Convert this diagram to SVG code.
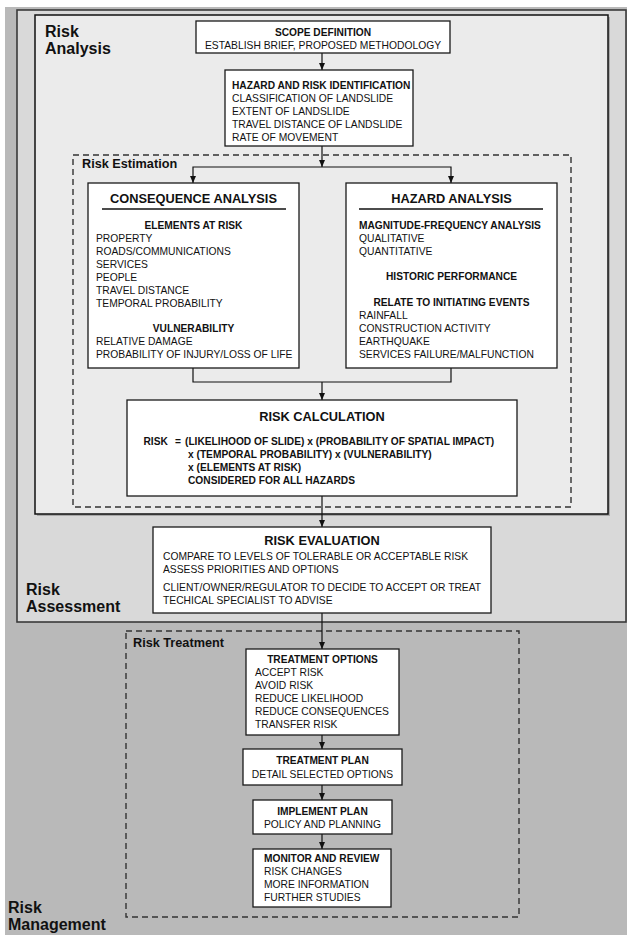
<svg xmlns="http://www.w3.org/2000/svg" width="627" height="935" viewBox="0 0 627 935">
<style>
text{font-family:"Liberation Sans",Arial,Helvetica,sans-serif;fill:#111}
.t{font-size:10.3px}
.tb{font-size:10.2px;font-weight:bold}
.h{font-size:12.8px;font-weight:bold}
.sec{font-size:16px;font-weight:bold}
.sub{font-size:12.7px;font-weight:bold}
.c{text-anchor:middle}
.box{fill:#fff;stroke:#1a1a1a;stroke-width:1.3}
.dash{fill:none;stroke:#333;stroke-width:1.4;stroke-dasharray:6 4}
.con{fill:none;stroke:#111;stroke-width:1.2}
.ul{stroke:#111;stroke-width:1.3}
</style>
<defs>
<marker id="ah" markerUnits="userSpaceOnUse" markerWidth="8" markerHeight="7" refX="7" refY="3.5" orient="auto"><path d="M0,0.5 L7,3.5 L0,6.5 z" fill="#111"/></marker>
</defs>
<rect x="0" y="0" width="627" height="935" fill="#fff"/>
<g id="risk-management">
<rect x="5" y="7" width="622" height="928" fill="#b9b9b9"/>
<text class="sec" x="8" y="913">Risk</text>
<text class="sec" x="8" y="930">Management</text>
</g>
<g id="risk-assessment">
<rect x="17" y="10" width="609" height="612" fill="#d9d9d9" stroke="#3a3a3a" stroke-width="1.6"/>
<text class="sec" x="26" y="595">Risk</text>
<text class="sec" x="26" y="612">Assessment</text>
</g>
<g id="risk-analysis">
<rect x="37" y="17" width="573" height="499" fill="#a8a8a8"/>
<rect x="35" y="15" width="573" height="499" fill="#ebebeb" stroke="#111" stroke-width="1.5"/>
<text class="sec" x="45" y="37">Risk</text>
<text class="sec" x="45" y="54">Analysis</text>
</g>
<g id="risk-estimation">
<rect class="dash" x="73" y="155" width="498" height="352"/>
<text class="sub" x="82" y="168">Risk Estimation</text>
</g>
<g id="risk-treatment">
<rect class="dash" x="126" y="631" width="393" height="286"/>
<text class="sub" x="133" y="647">Risk Treatment</text>
</g>
<g id="connectors">
<path class="con" d="M322,53 V70" marker-end="url(#ah)"/>
<path class="con" d="M322,146 V167" marker-end="url(#ah)"/>
<path class="con" d="M322,167 H193 V183" marker-end="url(#ah)"/>
<path class="con" d="M322,167 H451 V183" marker-end="url(#ah)"/>
<path class="con" d="M193,368 V382 H451 V368"/>
<path class="con" d="M322,382 V400" marker-end="url(#ah)"/>
<path class="con" d="M322,496 V527" marker-end="url(#ah)"/>
<path class="con" d="M322,613 V649" marker-end="url(#ah)"/>
<path class="con" d="M322,735 V749" marker-end="url(#ah)"/>
<path class="con" d="M322,785 V800" marker-end="url(#ah)"/>
<path class="con" d="M322,834 V849" marker-end="url(#ah)"/>
</g>
<g id="scope-definition">
<rect class="box" x="196" y="21" width="254" height="32"/>
<text class="tb c" x="323" y="35.5">SCOPE DEFINITION</text>
<text class="t c" x="323" y="49">ESTABLISH BRIEF, PROPOSED METHODOLOGY</text>
</g>
<g id="hazard-risk-identification">
<rect class="box" x="225" y="70" width="188" height="76"/>
<text class="tb" x="232" y="89">HAZARD AND RISK IDENTIFICATION</text>
<text class="t" x="232" y="102">CLASSIFICATION OF  LANDSLIDE</text>
<text class="t" x="232" y="115">EXTENT OF LANDSLIDE</text>
<text class="t" x="232" y="127.5">TRAVEL DISTANCE OF LANDSLIDE</text>
<text class="t" x="232" y="140.5">RATE OF MOVEMENT</text>
</g>
<g id="consequence-analysis">
<rect class="box" x="88" y="183" width="211" height="185"/>
<text class="h c" x="193.5" y="203">CONSEQUENCE ANALYSIS</text>
<line class="ul" x1="102" y1="209" x2="286" y2="209"/>
<text class="tb c" x="193.5" y="229">ELEMENTS AT RISK</text>
<text class="t" x="96" y="242">PROPERTY</text>
<text class="t" x="96" y="255">ROADS/COMMUNICATIONS</text>
<text class="t" x="96" y="268">SERVICES</text>
<text class="t" x="96" y="281">PEOPLE</text>
<text class="t" x="96" y="294">TRAVEL DISTANCE</text>
<text class="t" x="96" y="307">TEMPORAL PROBABILITY</text>
<text class="tb c" x="193.5" y="332">VULNERABILITY</text>
<text class="t" x="96" y="345">RELATIVE DAMAGE</text>
<text class="t" x="96" y="358">PROBABILITY OF INJURY/LOSS OF LIFE</text>
</g>
<g id="hazard-analysis">
<rect class="box" x="346" y="183" width="211" height="185"/>
<text class="h c" x="451.5" y="203">HAZARD ANALYSIS</text>
<line class="ul" x1="359" y1="209" x2="543" y2="209"/>
<text class="tb" x="359" y="229">MAGNITUDE-FREQUENCY ANALYSIS</text>
<text class="t" x="359" y="242">QUALITATIVE</text>
<text class="t" x="359" y="255">QUANTITATIVE</text>
<text class="tb c" x="451.5" y="280">HISTORIC PERFORMANCE</text>
<text class="tb c" x="451.5" y="306">RELATE TO INITIATING EVENTS</text>
<text class="t" x="359" y="319">RAINFALL</text>
<text class="t" x="359" y="332">CONSTRUCTION ACTIVITY</text>
<text class="t" x="359" y="345">EARTHQUAKE</text>
<text class="t" x="359" y="358">SERVICES FAILURE/MALFUNCTION</text>
</g>
<g id="risk-calculation">
<rect class="box" x="127" y="400" width="390" height="96"/>
<text class="h c" x="322" y="421">RISK CALCULATION</text>
<text class="tb" x="143.5" y="445">RISK</text>
<text class="tb" x="175" y="445">=</text>
<text class="tb" x="185" y="445">(LIKELIHOOD OF SLIDE) x (PROBABILITY OF SPATIAL IMPACT)</text>
<text class="tb" x="188" y="458">x (TEMPORAL PROBABILITY) x (VULNERABILITY)</text>
<text class="tb" x="188" y="471">x (ELEMENTS AT RISK)</text>
<text class="tb" x="188" y="484">CONSIDERED FOR ALL HAZARDS</text>
</g>
<g id="risk-evaluation">
<rect class="box" x="153" y="527" width="338" height="86"/>
<text class="h c" x="322" y="545">RISK EVALUATION</text>
<text class="t" x="163" y="560">COMPARE TO LEVELS OF TOLERABLE OR ACCEPTABLE RISK</text>
<text class="t" x="163" y="573">ASSESS PRIORITIES AND OPTIONS</text>
<text class="t" x="163" y="591">CLIENT/OWNER/REGULATOR TO DECIDE TO ACCEPT OR TREAT</text>
<text class="t" x="163" y="604">TECHICAL SPECIALIST TO ADVISE</text>
</g>
<g id="treatment-options">
<rect class="box" x="246" y="649" width="153" height="86"/>
<text class="tb c" x="322.5" y="663">TREATMENT OPTIONS</text>
<text class="t" x="255" y="676">ACCEPT RISK</text>
<text class="t" x="255" y="689">AVOID RISK</text>
<text class="t" x="255" y="702">REDUCE LIKELIHOOD</text>
<text class="t" x="255" y="715">REDUCE CONSEQUENCES</text>
<text class="t" x="255" y="728">TRANSFER RISK</text>
</g>
<g id="treatment-plan">
<rect class="box" x="243" y="749" width="159" height="36"/>
<text class="tb c" x="322.5" y="764">TREATMENT PLAN</text>
<text class="t c" x="322.5" y="777.5">DETAIL SELECTED OPTIONS</text>
</g>
<g id="implement-plan">
<rect class="box" x="253" y="800" width="139" height="34"/>
<text class="tb c" x="322.5" y="815">IMPLEMENT PLAN</text>
<text class="t c" x="322.5" y="827.5">POLICY AND PLANNING</text>
</g>
<g id="monitor-review">
<rect class="box" x="253" y="849" width="138" height="58"/>
<text class="tb" x="264" y="862">MONITOR AND REVIEW</text>
<text class="t" x="264" y="875">RISK CHANGES</text>
<text class="t" x="264" y="888">MORE INFORMATION</text>
<text class="t" x="264" y="901">FURTHER STUDIES</text>
</g>
</svg>
